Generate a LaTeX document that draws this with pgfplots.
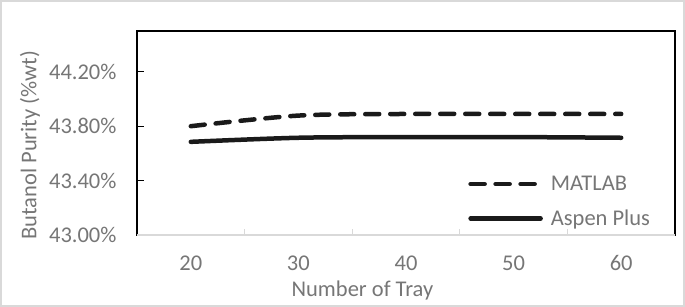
\documentclass[border=0pt]{standalone}
\usepackage{pgfplots}
\pgfplotsset{compat=1.18}
\usepackage{fontspec}
\setmainfont{Carlito}
\definecolor{txtgray}{RGB}{118,118,118}
\definecolor{axgray}{RGB}{217,217,217}
\definecolor{linecol}{RGB}{26,26,26}
\begin{document}
\begin{tikzpicture}
\path[use as bounding box] (0,0) rectangle (685bp,307bp);
\draw[axgray, line width=2bp] (1bp,1bp) rectangle (684bp,306bp);
\begin{axis}[
  at={(137bp,72bp)}, anchor=south west,
  scale only axis, width=538bp, height=204bp,
  xmin=15, xmax=65, ymin=43.0, ymax=44.5,
  axis line style={black, line width=1.2bp},
  xtick={20,30,40,50,60},
  xticklabels={20,30,40,50,60},
  minor xtick={25,35,45,55},
  ytick={43.0,43.4,43.8,44.2},
  yticklabels={43.00\%,43.40\%,43.80\%,44.20\%},
  xtick pos=bottom, ytick pos=left,
  tick align=inside,
  major tick length=7bp, minor tick length=6bp,
  major x tick style={draw=none},
  minor x tick style={axgray, line width=1bp},
  y tick style={black, line width=1bp},
  tick label style={font=\fontsize{22.5bp}{26bp}\selectfont, text=txtgray},
  xticklabel style={yshift=-17bp},
  yticklabel style={xshift=-17bp},
  label style={font=\fontsize{22.5bp}{26bp}\selectfont, text=txtgray},
  xlabel={Number of Tray},
  xlabel style={at={(axis description cs:0.419,-0.27)}, anchor=center},
  ylabel={Butanol Purity (\%wt)},
  ylabel style={at={(axis description cs:-0.199,0.44)}, anchor=center},
  legend style={draw=none, fill=none, at={(rel axis cs:0.61,0.31)}, anchor=north west,
    font=\fontsize{22.5bp}{26bp}\selectfont, text=txtgray, row sep=14bp, column sep=6bp},
  legend cell align=left,
  legend image code/.code={\draw[#1] (0bp,0bp) -- (70bp,0bp);},
  clip=false,
]
\addplot[linecol, line width=4.5bp, line cap=round, dash pattern=on 14bp off 11bp, smooth] coordinates {
  (20,43.800) (30,43.878) (40,43.890) (50,43.890) (60,43.890)};
\addlegendentry{MATLAB}
\addplot[linecol, line width=4.5bp, line cap=round, smooth] coordinates {
  (20,43.685) (30,43.715) (40,43.720) (50,43.720) (60,43.715)};
\addlegendentry{Aspen Plus}
\draw[axgray, line width=1.5bp] (rel axis cs:0,0) -- (rel axis cs:1,0);
\end{axis}
\end{tikzpicture}
\end{document}
